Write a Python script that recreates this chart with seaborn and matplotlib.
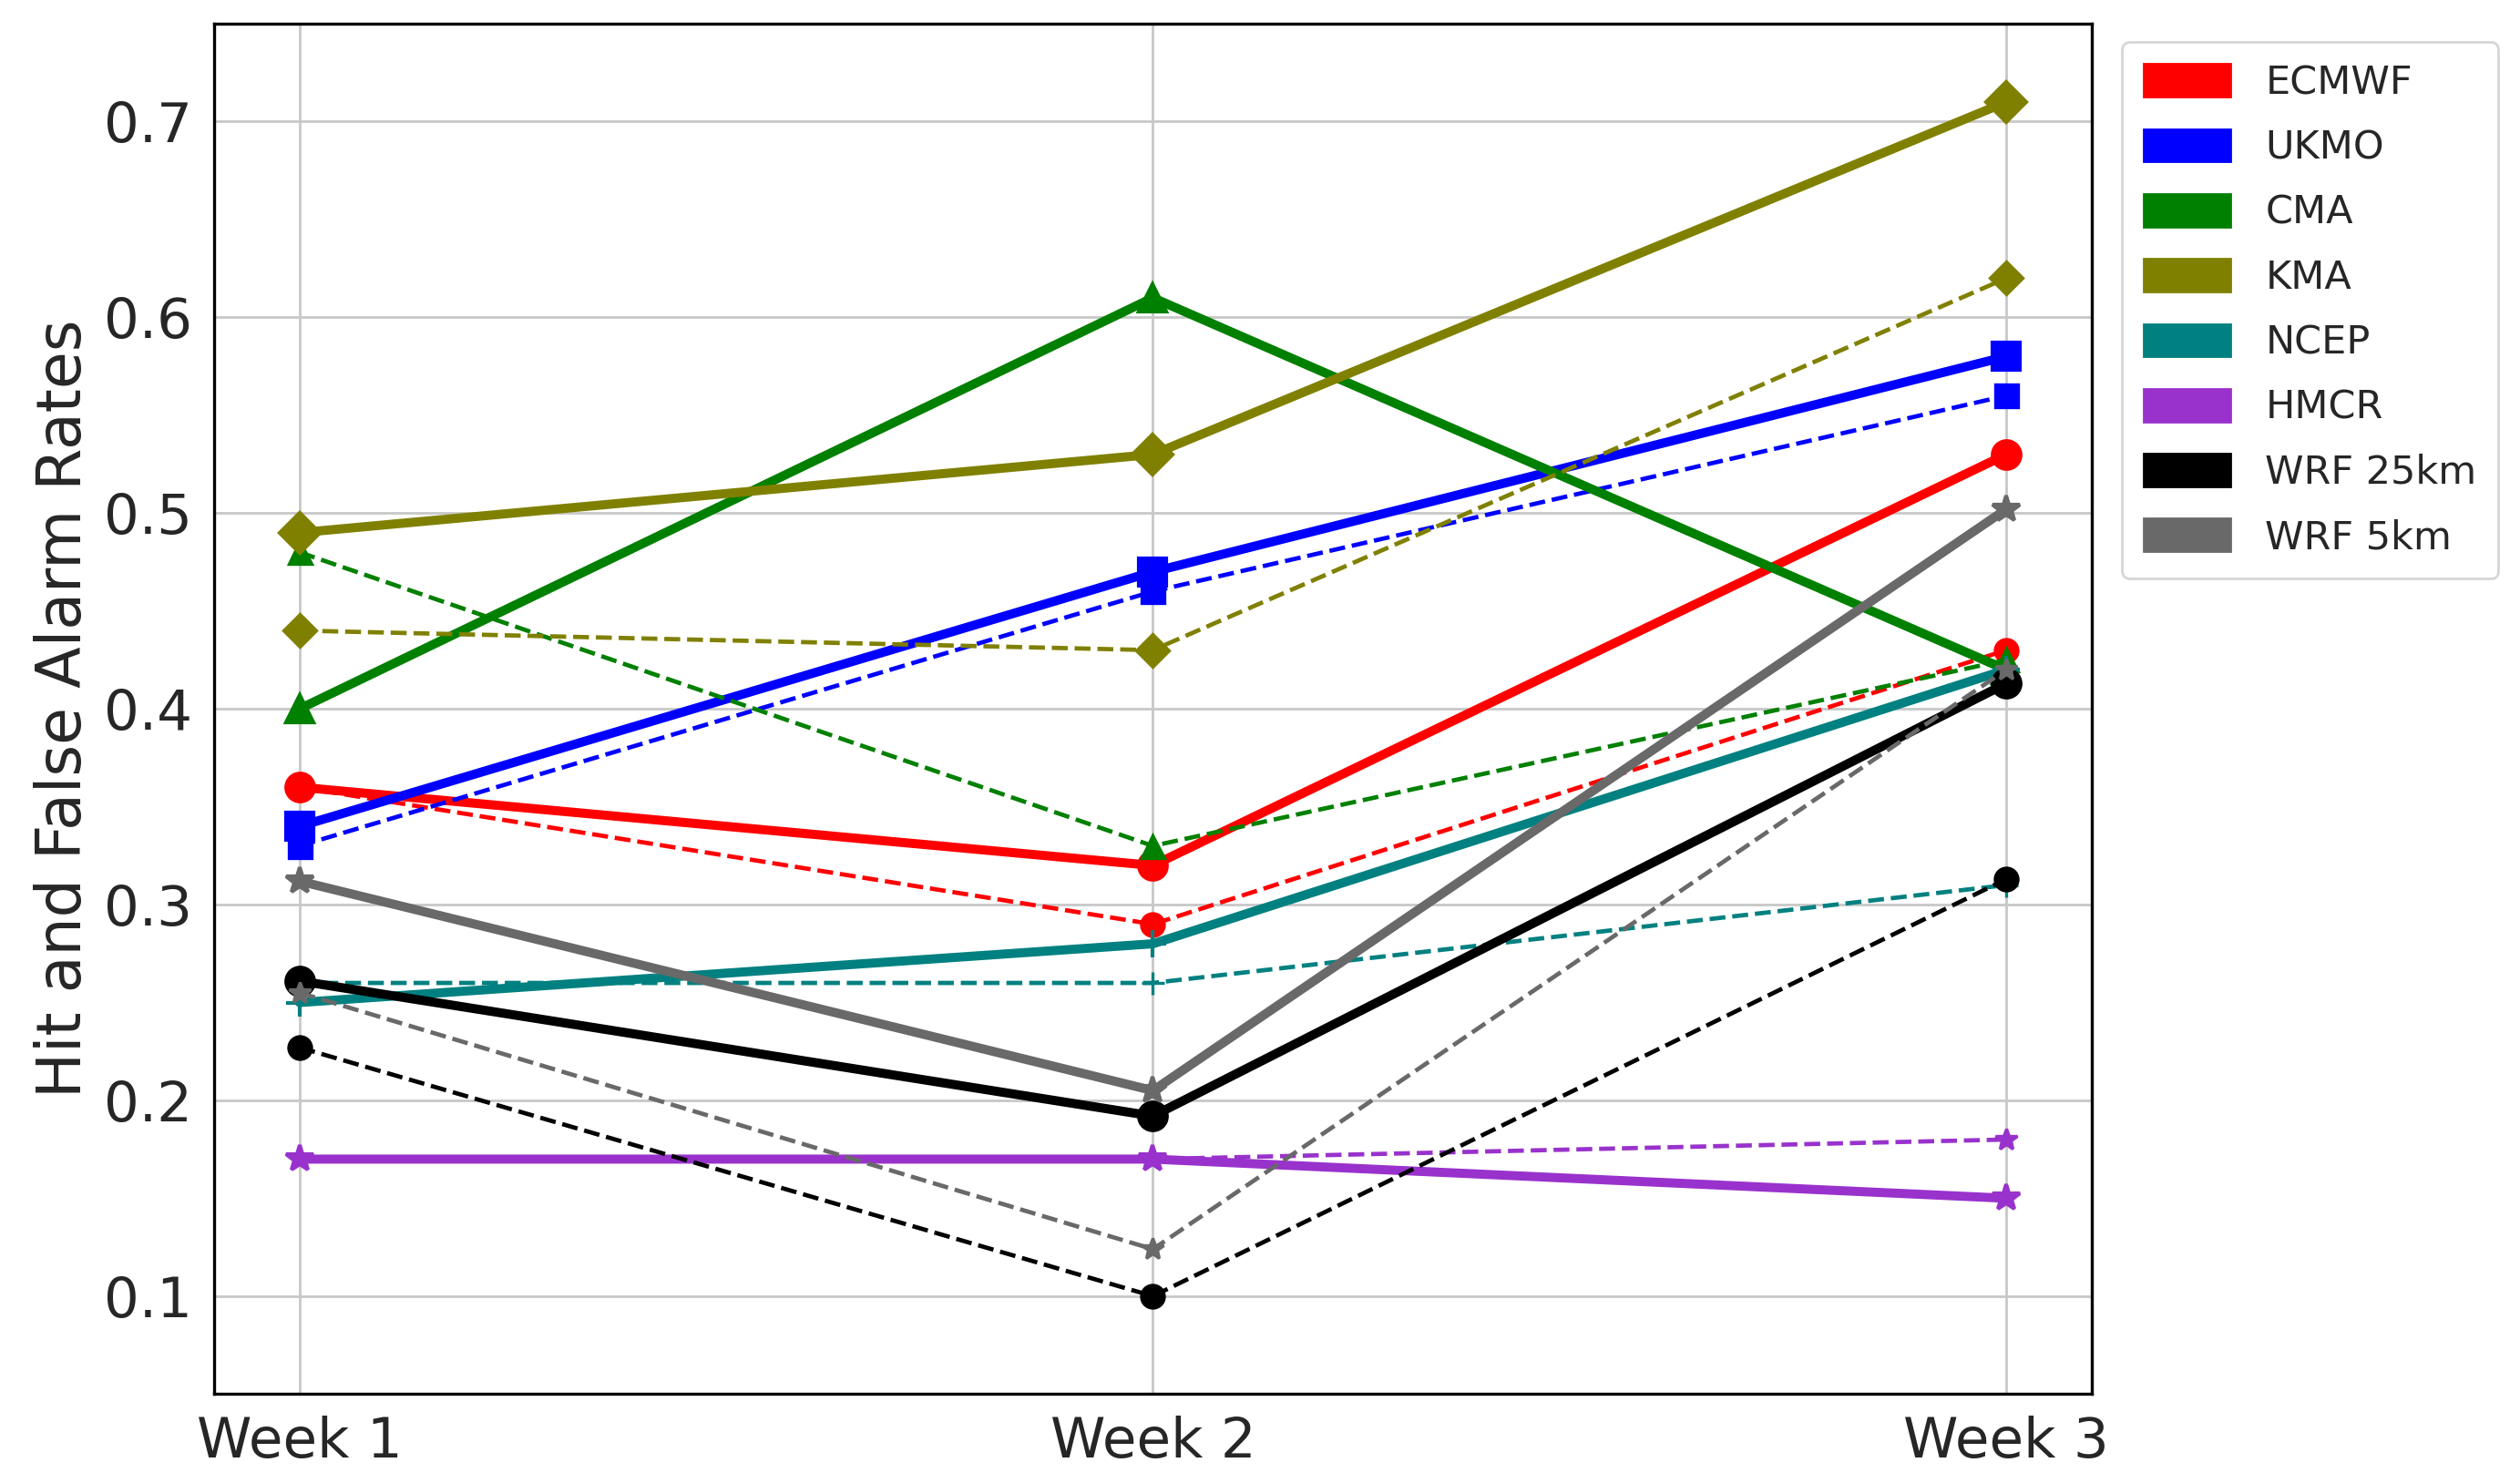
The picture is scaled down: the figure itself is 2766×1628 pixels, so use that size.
import matplotlib
matplotlib.use("Agg")
import matplotlib.pyplot as plt
import matplotlib.patches as mpatches
import seaborn as sns

weeks = ["Week 1", "Week 2", "Week 3"]
models = ["ECMWF", "UKMO", "CMA", "KMA", "NCEP", "HMCR", "WRF 25km", "WRF 5km"]

# solid lines (hit rate) and dashed lines (false alarm rate), per model
ecmwf_solid = [0.36, 0.32, 0.53]
ecmwf_dash = [0.36, 0.29, 0.43]
ukmo_solid = [0.34, 0.47, 0.58]
ukmo_dash = [0.33, 0.46, 0.56]
cma_solid = [0.40, 0.61, 0.42]
cma_dash = [0.48, 0.33, 0.425]
kma_solid = [0.49, 0.53, 0.71]
kma_dash = [0.44, 0.43, 0.62]
ncep_solid = [0.25, 0.28, 0.42]
ncep_dash = [0.26, 0.26, 0.31]
hmcr_solid = [0.17, 0.17, 0.15]
hmcr_dash = [0.17, 0.17, 0.18]
wrf25_solid = [0.261, 0.192, 0.413]
wrf25_dash = [0.227, 0.10, 0.313]
wrf5_solid = [0.312, 0.205, 0.502]
wrf5_dash = [0.255, 0.124, 0.42]

solid = [ecmwf_solid, ukmo_solid, cma_solid, kma_solid,
         ncep_solid, hmcr_solid, wrf25_solid, wrf5_solid]
dashed = [ecmwf_dash, ukmo_dash, cma_dash, kma_dash,
          ncep_dash, hmcr_dash, wrf25_dash, wrf5_dash]
colors = ["#ff0000", "#0000ff", "#008000", "#808000",
          "#008080", "#9932cc", "#000000", "#696969"]
markers = ["o", "s", "^", "D", "+", "*", "o", "*"]

sns.set_style("white")
plt.rcParams["font.family"] = ["DejaVu Sans"]

fig = plt.figure(figsize=(13.83, 8.14), dpi=200)
ax = fig.add_axes([0.085, 0.06, 0.745, 0.924])

x = list(range(len(weeks)))
for name, s, d, c, m in zip(models, solid, dashed, colors, markers):
    sns.lineplot(x=x, y=s, ax=ax, color=c, marker=m, linestyle="-",
                 linewidth=3.6, markersize=11, markeredgecolor=c,
                 markeredgewidth=1.5)
    sns.lineplot(x=x, y=d, ax=ax, color=c, marker=m, linestyle="--",
                 linewidth=1.7, markersize=9, markeredgecolor=c,
                 markeredgewidth=1.2)

ax.set_xlim(-0.1, 2.1)
ax.set_ylim(0.05, 0.75)
ax.set_xticks(x)
ax.set_xticklabels(weeks)
ax.set_yticks([0.1, 0.2, 0.3, 0.4, 0.5, 0.6, 0.7])
ax.tick_params(axis="both", labelsize=22, length=5, width=1)
ax.set_ylabel("Hit and False Alarm Rates", fontsize=24)
ax.grid(True, color="#c8c8c8", linewidth=1)
for sp in ax.spines.values():
    sp.set_color("black")
    sp.set_linewidth(1.2)

handles = [mpatches.Patch(color=c, label=n) for n, c in zip(models, colors)]
ax.legend(handles=handles, loc="upper left", bbox_to_anchor=(1.01, 0.995),
          fontsize=15.5, frameon=True, handlelength=2.2, handleheight=0.9,
          labelspacing=0.68, borderpad=0.55, handletextpad=0.9,
          borderaxespad=0.3)

fig.savefig("out.png", dpi=200)
